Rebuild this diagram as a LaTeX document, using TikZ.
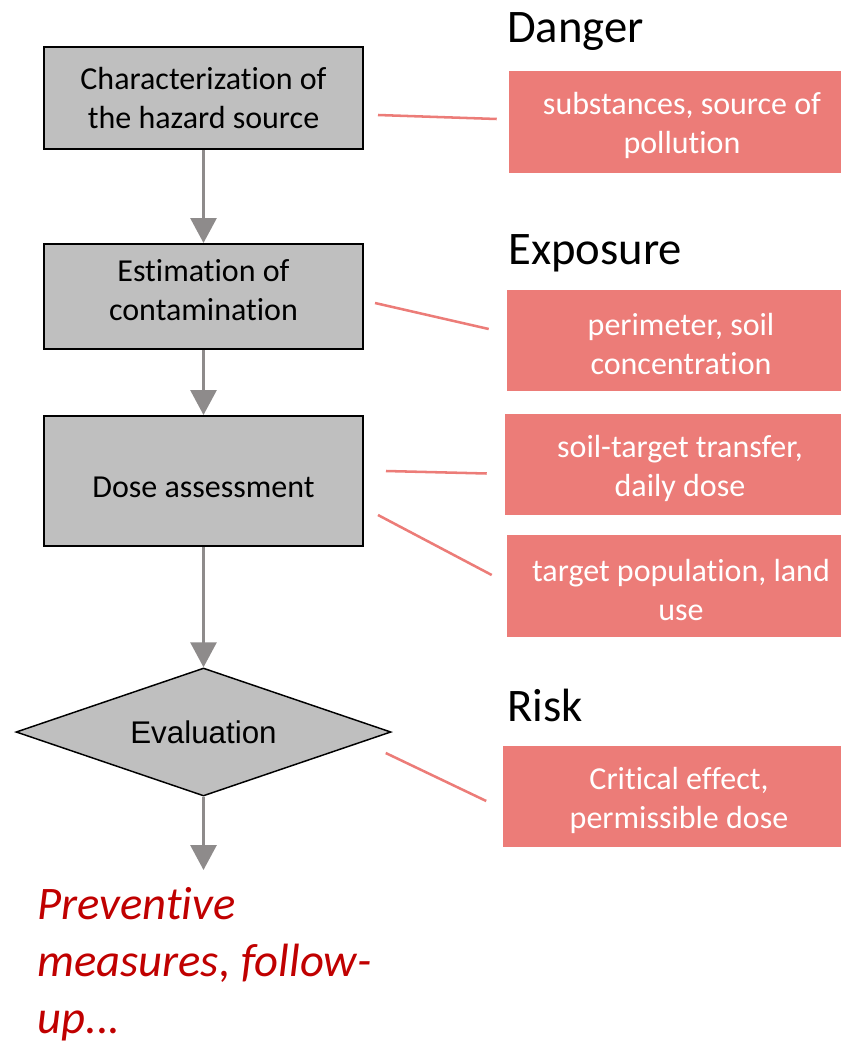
\documentclass[tikz,border=0pt]{standalone}
\usepackage{fontspec}
\setmainfont{Carlito}[Ligatures={NoCommon}]
\newfontfamily\arialf{Liberation Sans}
\usetikzlibrary{shapes.geometric,arrows.meta}
\definecolor{boxgray}{HTML}{BFBFBF}
\definecolor{arrgray}{HTML}{8E8B8B}
\definecolor{salmon}{HTML}{EC7C78}
\definecolor{darkred}{HTML}{C00000}
\newcommand\topstrut{\rule{0pt}{22pt}}
\tikzset{
  graybox/.style={draw=black, line width=1.5pt, fill=boxgray, minimum width=239.25pt, align=center, inner sep=0pt,
    font=\fontsize{24}{29.25}\selectfont},
  redbox/.style={fill=salmon, text=white, align=center, inner sep=0pt, minimum height=76pt,
    font=\fontsize{24}{29.25}\selectfont},
  flowarrow/.style={draw=arrgray, line width=2.25pt, -{Triangle[width=19.5pt,length=18.75pt]}},
  link/.style={draw=salmon, line width=1.9pt},
  header/.style={anchor=base west, inner sep=0pt, font=\fontsize{35}{42}\selectfont},
}
\begin{document}
\begin{tikzpicture}[x=0.75pt,y=-0.75pt]
\useasboundingbox (0,0) rectangle (841,1043);
\clip (0,0) rectangle (841,1043);
% gray flow nodes
\node[graybox, minimum height=76.5pt] (b1) at (203.5,98) {Characterization of\\the hazard source};
\node[graybox, minimum height=78.75pt] (b2) at (203.5,296.5) {Estimation of\\contamination\rule[-10pt]{0pt}{10pt}};
\node[graybox, minimum height=97.5pt] (b3) at (203.5,481) {\rule{0pt}{25pt}Dose assessment};
\node[diamond, draw=black, line width=1.1pt, fill=boxgray, inner sep=0pt, shape aspect=2.93,
  minimum width=281.25pt, minimum height=96pt, font=\arialf\fontsize{23.5}{28}\selectfont] (dia) at (203.5,732) {Evaluation};
\coordinate (endp) at (203.5,870);
% flow arrows
\draw[flowarrow] (b1.south) -- (b2.north);
\draw[flowarrow] (b2.south) -- (b3.north);
\draw[flowarrow] (b3.south) -- (dia.north);
\draw[flowarrow] (dia.south) -- (endp);
% headers
\node[header] (hd) at (507,42) {Danger};
\node[header] (he) at (508,264) {Exposure};
\node[header] (hr) at (507,721) {Risk};
% red boxes
\node[redbox, minimum width=259.5pt] (r1) at (682,122) {\topstrut substances, source of\\pollution};
\node[redbox, minimum width=261pt] (r2) at (681,340.5) {\topstrut perimeter, soil\\concentration};
\node[redbox, minimum width=262.5pt] (r3) at (680,464.5) {\topstrut soil-target transfer,\\daily dose};
\node[redbox, minimum width=261pt] (r4) at (681,586) {\topstrut target population, land\\use};
\node[redbox, minimum width=264.75pt] (r5) at (679,796.5) {\topstrut Critical effect,\\permissible dose};
% links
\draw[link] ([shift={(14,17)}]b1.east) -- ([shift={(-12,-3)}]r1.west);
\draw[link] ([shift={(11,6.5)}]b2.east) -- ([shift={(-18,-11.5)}]r2.west);
\draw[link] ([shift={(22,-10)}]b3.east) -- ([shift={(-18,9)}]r3.west);
\draw[link] ([shift={(14,34)}]b3.east) -- ([shift={(-15,-11)}]r4.west);
\draw[link] ([shift={(-6,21)}]dia.east) -- ([shift={(-16,4.5)}]r5.west);
% outcome text
\node[anchor=base west, inner sep=0pt, text=darkred, align=left,
  font=\itshape\fontsize{35}{42.4}\selectfont] (out) at (37,1033) {Preventive\\measures, follow-\\up...};
\end{tikzpicture}
\end{document}
